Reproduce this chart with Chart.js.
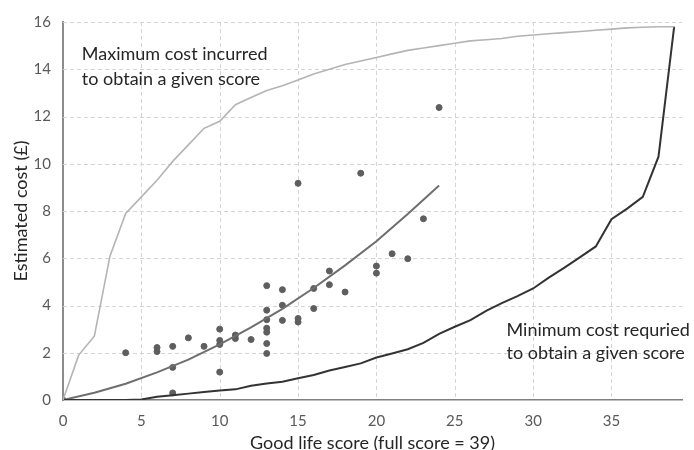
<!DOCTYPE html>
<html lang="en">
<head>
    <meta charset="UTF-8">
    <title>Good life score vs estimated cost</title>
    <script src="https://cdn.jsdelivr.net/npm/chart.js@4.4.0/dist/chart.umd.min.js"></script>
    <style>
        html, body { margin: 0; padding: 0; background: #ffffff; }
        #wrap { width: 694px; height: 450px; position: relative; }
    </style>
</head>
<body>
    <div id="wrap"><canvas id="cost-chart"></canvas></div>

    <script>
        // Scores 0..39 used by the maximum / minimum cost envelopes
        const scores = [0,1,2,3,4,5,6,7,8,9,10,11,12,13,14,15,16,17,18,19,20,
                        21,22,23,24,25,26,27,28,29,30,31,32,33,34,35,36,37,38,39];
        const maxCost = [0,1.9,2.7,6.1,7.9,8.6,9.3,10.1,10.8,11.5,11.8,12.5,12.8,13.1,13.3,13.55,13.8,14.0,14.2,14.35,14.5,
                         14.65,14.8,14.9,15.0,15.1,15.2,15.25,15.3,15.4,15.45,15.5,15.55,15.6,15.65,15.7,15.75,15.78,15.8,15.8];
        const minCost = [0,0,0,0,0,0.02,0.14,0.2,0.27,0.34,0.4,0.45,0.6,0.7,0.77,0.92,1.06,1.25,1.4,1.55,1.8,
                         1.97,2.15,2.42,2.8,3.1,3.38,3.77,4.1,4.4,4.72,5.18,5.6,6.05,6.5,7.65,8.1,8.6,10.3,15.8];

        const trendScores = [0,2,4,6,8,10,12,14,16,18,20,22,24];
        const trendCost   = [0,0.31,0.69,1.17,1.71,2.35,3.07,3.86,4.74,5.7,6.72,7.87,9.08];

        // Observed scores and costs
        const obsScore = [0,4,6,6,7,7,7,8,9,10,10,10,10,11,11,12,13,13,13,13,13,13,13,
                          14,14,14,15,15,15,16,16,17,17,18,19,20,20,21,22,23,24];
        const obsCost  = [0,2.0,2.22,2.05,2.27,1.38,0.3,2.63,2.27,3.0,2.52,2.35,1.18,2.75,2.6,2.56,4.84,3.8,3.4,3.04,2.87,2.39,1.97,
                          4.67,4.01,3.37,3.45,3.3,9.17,4.72,3.87,5.46,4.88,4.57,9.6,5.67,5.37,6.19,5.98,7.67,12.38];

        const xTicks = [0,5,10,15,20,25,30,35];
        const yTicks = [0,2,4,6,8,10,12,14,16];

        const notes = [
            { x: 1.2,  y: 14.65, text: 'Maximum cost incurred' },
            { x: 1.2,  y: 13.6,  text: 'to obtain a given score' },
            { x: 28.3, y: 2.95,  text: 'Minimum cost requried' },
            { x: 28.3, y: 1.98,  text: 'to obtain a given score' }
        ];

        const toPoints = (xs, ys) => xs.map((x, i) => ({ x: x, y: ys[i] }));
        const FONT = 'Lato, "Open Sans", sans-serif';

        // dashed gridlines, drawn from the scales' ticks
        const dashedGrid = {
            id: 'dashedGrid',
            beforeDatasetsDraw(chart) {
                const { ctx, chartArea: a, scales: { x, y } } = chart;
                ctx.save();
                ctx.strokeStyle = '#d4d4d4';
                ctx.lineWidth = 1;
                ctx.setLineDash([4, 3]);
                x.ticks.forEach(t => {
                    if (t.value === 0) return;
                    const px = Math.round(x.getPixelForValue(t.value)) + 0.5;
                    ctx.beginPath(); ctx.moveTo(px, a.top); ctx.lineTo(px, a.bottom); ctx.stroke();
                });
                y.ticks.forEach(t => {
                    if (t.value === 0) return;
                    const py = Math.round(y.getPixelForValue(t.value)) + 0.5;
                    ctx.beginPath(); ctx.moveTo(a.left, py); ctx.lineTo(a.right, py); ctx.stroke();
                });
                ctx.restore();
            }
        };

        // draw the two free text labels
        const notesPlugin = {
            id: 'notes',
            afterDatasetsDraw(chart) {
                const ctx = chart.ctx;
                const xs = chart.scales.x, ys = chart.scales.y;
                ctx.save();
                ctx.fillStyle = '#262626';
                ctx.font = '18px ' + FONT;
                ctx.textBaseline = 'middle';
                ctx.textAlign = 'left';
                notes.forEach(n => ctx.fillText(n.text, xs.getPixelForValue(n.x), ys.getPixelForValue(n.y)));
                ctx.restore();
            }
        };

        new Chart(document.getElementById('cost-chart'), {
            type: 'scatter',
            data: {
                datasets: [
                    {
                        type: 'line',
                        data: toPoints(scores, maxCost),
                        borderColor: '#b4b4b4',
                        borderWidth: 1.6,
                        pointRadius: 0,
                        tension: 0
                    },
                    {
                        type: 'line',
                        data: toPoints(scores, minCost),
                        borderColor: '#333333',
                        borderWidth: 2,
                        pointRadius: 0,
                        tension: 0
                    },
                    {
                        type: 'line',
                        data: toPoints(trendScores, trendCost),
                        borderColor: '#6e6e6e',
                        borderWidth: 2,
                        pointRadius: 0,
                        tension: 0
                    },
                    {
                        data: toPoints(obsScore, obsCost),
                        backgroundColor: '#5e5e5e',
                        borderColor: '#5e5e5e',
                        pointRadius: 3,
                        pointHoverRadius: 3
                    }
                ]
            },
            options: {
                responsive: true,
                maintainAspectRatio: false,
                animation: false,
                layout: { padding: { left: 0, right: 12, top: 22, bottom: 0 } },
                plugins: {
                    legend: { display: false },
                    tooltip: { enabled: false }
                },
                scales: {
                    x: {
                        type: 'linear',
                        min: 0,
                        max: 39.5,
                        afterBuildTicks: axis => { axis.ticks = xTicks.map(v => ({ value: v })); },
                        afterFit: axis => { axis.height = 50; },
                        grid: { display: false, drawTicks: false },
                        border: { display: true, color: '#7f7f7f', width: 1.5 },
                        ticks: {
                            color: '#595959',
                            padding: 12,
                            font: { family: FONT, size: 15 }
                        },
                        title: {
                            display: true,
                            text: 'Good life score (full score = 39)',
                            color: '#262626',
                            padding: { top: -1, bottom: 0 },
                            font: { family: FONT, size: 18, lineHeight: 0.8 }
                        }
                    },
                    y: {
                        min: 0,
                        max: 16,
                        afterBuildTicks: axis => { axis.ticks = yTicks.map(v => ({ value: v })); },
                        afterFit: axis => { axis.width = 63; },
                        grid: { display: false, drawTicks: false },
                        border: { display: true, color: '#8c8c8c', width: 2 },
                        ticks: {
                            color: '#595959',
                            padding: 12,
                            font: { family: FONT, size: 15 }
                        },
                        title: {
                            display: true,
                            text: 'Estimated cost (£)',
                            color: '#262626',
                            padding: { top: 10, bottom: 0 },
                            font: { family: FONT, size: 18, lineHeight: 1.2 }
                        }
                    }
                }
            },
            plugins: [dashedGrid, notesPlugin]
        });
    </script>
</body>
</html>
